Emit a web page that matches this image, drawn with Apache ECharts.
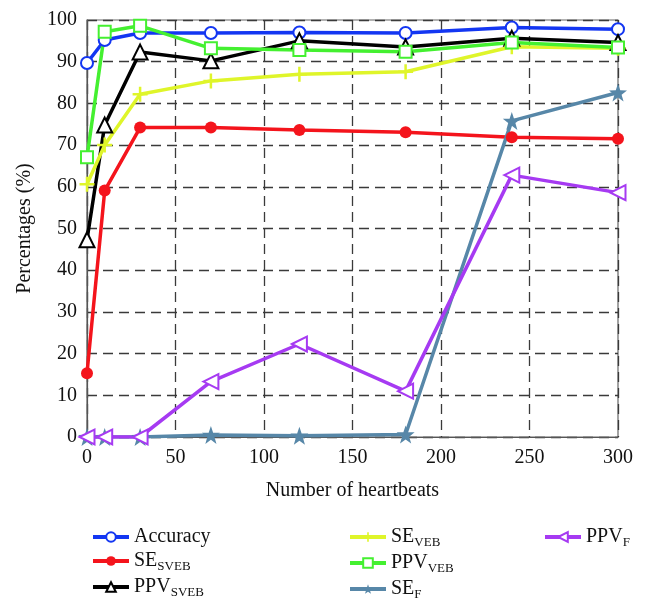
<!DOCTYPE html>
<html>
<head>
<meta charset="utf-8">
<script src="https://cdn.jsdelivr.net/npm/echarts@6/dist/echarts.min.js"></script>
<style>
html,body{margin:0;padding:0;background:#fff;}
#c{width:646px;height:615px;}
</style>
</head>
<body>
<div id="c"></div>
<script>
const heartbeats = [0, 10, 30, 70, 120, 180, 240, 300];
const accuracy = [89.7, 95.2, 96.9, 96.9, 97.0, 96.9, 98.2, 97.8];
const seSVEB   = [15.3, 59.1, 74.2, 74.2, 73.6, 73.1, 71.9, 71.5];
const ppvSVEB  = [47.3, 74.8, 92.3, 90.2, 95.0, 93.5, 95.6, 94.6];
const seVEB    = [60.6, 70.0, 82.2, 85.4, 87.0, 87.6, 93.6, 93.2];
const ppvVEB   = [67.1, 97.2, 98.6, 93.2, 92.8, 92.4, 94.6, 93.4];
const seF      = [0.0, 0.0, 0.0, 0.5, 0.3, 0.6, 75.8, 82.6];
const ppvF     = [0.0, 0.0, 0.0, 13.3, 22.3, 11.0, 62.8, 58.6];
const xTicks = [0, 50, 100, 150, 200, 250, 300];
const yTicks = [0, 10, 20, 30, 40, 50, 60, 70, 80, 90, 100];

const FONT = '"Liberation Serif", "DejaVu Serif", serif';
const STAR = 'path://M0,-10 L2.35,-3.24 L9.51,-3.09 L3.8,1.24 L5.88,8.09 L0,4 L-5.88,8.09 L-3.8,1.24 L-9.51,-3.09 L-2.35,-3.24 Z';
const PLUS = 'path://M-1,-6 L1,-6 L1,-1 L6,-1 L6,1 L1,1 L1,6 L-1,6 L-1,1 L-6,1 L-6,-1 L-1,-1 Z';

function mk(name, vals, color, symbol, size, extra) {
  return Object.assign({
    name: name,
    type: 'line',
    data: heartbeats.map((x, i) => [x, vals[i]]),
    symbol: symbol,
    symbolSize: size,
    showAllSymbol: true,
    lineStyle: { color: color, width: 3.5 },
    itemStyle: { color: color, borderWidth: 2.8 },
    emphasis: { disabled: true },
    animation: false
  }, extra || {});
}

const series = [
  mk('Accuracy', accuracy, '#1336f2', 'emptyCircle', 12),
  mk('SE_SVEB', seSVEB, '#f4141c', 'circle', 12),
  mk('PPV_SVEB', ppvSVEB, '#000000', 'emptyTriangle', 15),
  mk('SE_VEB', seVEB, '#dff52a', PLUS, 15),
  mk('PPV_VEB', ppvVEB, '#44f030', 'emptyRect', 12),
  mk('SE_F', seF, '#5787a8', STAR, 18),
  mk('PPV_F', ppvF, '#a63af2', 'emptyTriangle', 15, { symbolRotate: 90 })
];

function fmt(name) {
  const p = name.split('_');
  if (p.length === 1) return '{n|' + p[0] + '}';
  return '{n|' + p[0] + '}{s|' + p[1] + '}';
}
const legendText = {
  fontFamily: FONT,
  color: '#111',
  rich: {
    n: { fontFamily: FONT, fontSize: 20, lineHeight: 24, color: '#111', verticalAlign: 'middle' },
    s: { fontFamily: FONT, fontSize: 13, lineHeight: 12, color: '#111', verticalAlign: 'bottom' }
  }
};
function legend(left, names) {
  return {
    orient: 'vertical', left: left, top: 522,
    itemWidth: 36, itemHeight: 12, itemGap: 4,
    data: names, formatter: fmt, textStyle: legendText,
    lineStyle: { width: 4 },
    selectedMode: false
  };
}

const chart = echarts.init(document.getElementById('c'), null, { renderer: 'canvas' });
chart.setOption({
  backgroundColor: '#fff',
  animation: false,
  grid: { left: 87, right: 28, top: 20, bottom: 178, show: true, borderColor: '#666', borderWidth: 1.2 },
  legend: [
    legend(86, ['Accuracy', 'SE_SVEB', 'PPV_SVEB']),
    legend(343, ['SE_VEB', 'PPV_VEB', 'SE_F']),
    legend(538, ['PPV_F'])
  ],
  xAxis: {
    type: 'value', min: 0, max: 300, interval: 50,
    name: 'Number of heartbeats', nameLocation: 'middle', nameGap: 44,
    nameTextStyle: { fontFamily: FONT, fontSize: 20, color: '#111' },
    axisLine: { show: true, lineStyle: { color: '#555', width: 1.2 } },
    axisTick: { show: false },
    axisLabel: { fontFamily: FONT, fontSize: 20, color: '#111', margin: 11,
      formatter: v => xTicks.includes(v) ? String(v) : '' },
    splitLine: { show: true, lineStyle: { color: '#3a3a3a', type: [10, 6], width: 1.3 } }
  },
  yAxis: {
    type: 'value', min: 0, max: 100, interval: 10,
    name: 'Percentages (%)', nameLocation: 'middle', nameGap: 52, nameRotate: 90,
    nameTextStyle: { fontFamily: FONT, fontSize: 20, color: '#111' },
    axisLine: { show: true, lineStyle: { color: '#555', width: 1.2 } },
    axisTick: { show: false },
    axisLabel: { fontFamily: FONT, fontSize: 20, color: '#111', margin: 10,
      formatter: v => yTicks.includes(v) ? String(v) : '' },
    splitLine: { show: true, lineStyle: { color: '#3a3a3a', type: [10, 6], width: 1.3 } }
  },
  series: series
});
</script>
</body>
</html>
